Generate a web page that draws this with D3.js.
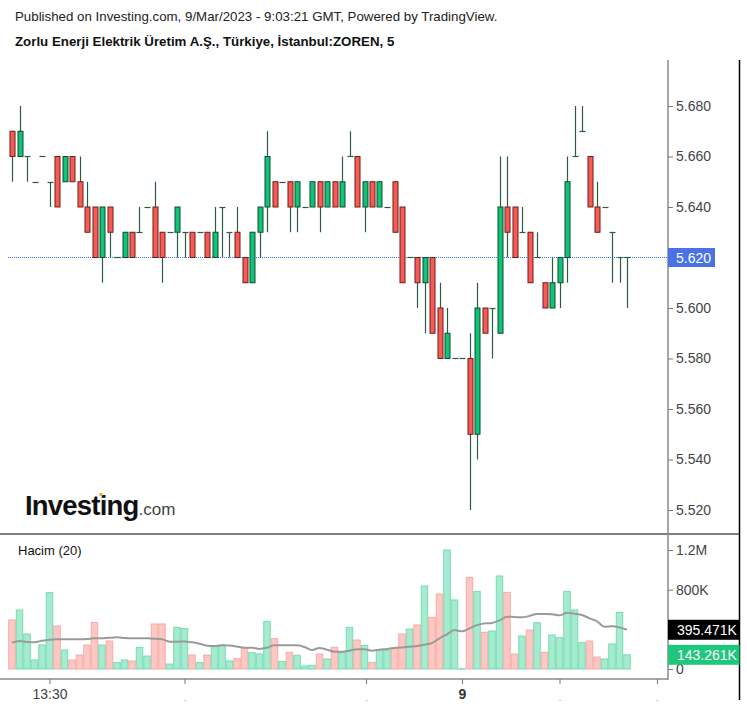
<!DOCTYPE html>
<html>
<head>
<meta charset="utf-8">
<script src="https://cdn.jsdelivr.net/npm/d3@7/dist/d3.min.js"></script>
<style>
html,body{margin:0;padding:0;background:#fff;}
svg{display:block;font-family:"Liberation Sans",Arial,sans-serif;}
</style>
</head>
<body>
<svg id="chart" width="747" height="707"></svg>
<script>
// ---------- DATA ----------
const opens  = [5.67,5.66,5.66,5.65,5.66,5.65,5.66,5.65,5.66,5.65,5.64,5.64,5.62,5.64,5.62,5.62,5.63,5.63,5.64,5.64,
                5.63,5.63,5.63,5.63,5.63,5.63,5.63,5.62,5.64,5.63,5.63,5.62,5.61,5.63,5.64,5.65,5.65,5.65,5.64,5.64,
                5.64,5.65,5.64,5.65,5.64,5.66,5.66,5.64,5.65,5.64,5.64,5.65,5.64,5.62,5.62,5.61,5.62,5.60,5.58,5.58,
                5.58,5.58,5.55,5.60,5.60,5.59,5.64,5.64,5.63,5.63,5.62,5.61,5.60,5.61,5.62,5.66,5.67,5.66,5.64,5.64,
                5.63,5.62,5.62];
const highs  = [5.67,5.68,5.66,5.65,5.66,5.65,5.66,5.66,5.66,5.66,5.65,5.64,5.64,5.64,5.62,5.63,5.63,5.64,5.64,5.65,
                5.63,5.63,5.64,5.63,5.63,5.63,5.63,5.64,5.64,5.63,5.64,5.62,5.63,5.64,5.67,5.65,5.65,5.65,5.65,5.64,
                5.65,5.65,5.65,5.65,5.66,5.67,5.66,5.65,5.65,5.65,5.64,5.65,5.64,5.62,5.62,5.62,5.62,5.61,5.60,5.58,
                5.58,5.59,5.61,5.60,5.60,5.66,5.66,5.64,5.64,5.63,5.63,5.61,5.62,5.62,5.66,5.68,5.68,5.66,5.65,5.64,
                5.63,5.62,5.62];
const lows   = [5.65,5.66,5.65,5.65,5.66,5.64,5.64,5.65,5.65,5.64,5.63,5.62,5.61,5.62,5.62,5.62,5.62,5.63,5.64,5.62,
                5.61,5.63,5.62,5.62,5.62,5.63,5.62,5.62,5.62,5.62,5.62,5.61,5.61,5.62,5.63,5.64,5.65,5.63,5.63,5.64,
                5.64,5.63,5.64,5.64,5.64,5.66,5.64,5.63,5.64,5.64,5.64,5.63,5.61,5.62,5.60,5.59,5.59,5.58,5.58,5.58,
                5.58,5.52,5.54,5.59,5.58,5.59,5.62,5.62,5.63,5.61,5.62,5.60,5.60,5.60,5.61,5.66,5.67,5.64,5.63,5.64,
                5.61,5.61,5.60];
const closes = [5.66,5.67,5.66,5.65,5.66,5.65,5.64,5.66,5.65,5.64,5.63,5.62,5.64,5.63,5.62,5.63,5.62,5.63,5.64,5.62,
                5.62,5.63,5.64,5.63,5.62,5.63,5.62,5.63,5.64,5.63,5.62,5.61,5.63,5.64,5.66,5.64,5.65,5.64,5.65,5.64,
                5.65,5.64,5.65,5.64,5.65,5.66,5.64,5.65,5.64,5.65,5.64,5.63,5.61,5.62,5.61,5.62,5.59,5.58,5.59,5.58,
                5.58,5.55,5.60,5.59,5.60,5.64,5.63,5.62,5.63,5.61,5.62,5.60,5.61,5.62,5.65,5.66,5.67,5.64,5.63,5.64,
                5.63,5.62,5.62];
// volume in thousands
const volumes = [494,595,353,91,242,770,434,192,91,141,242,470,242,282,64,91,81,218,131,454,
                 454,50,420,407,141,64,141,232,242,81,104,213,165,151,481,306,77,168,138,30,
                 37,151,101,218,165,420,292,239,67,192,192,218,353,403,444,837,521,756,1200,696,
                 3,924,783,370,383,938,773,151,333,393,467,168,343,316,783,595,266,282,121,101,
                 252,571,143.261];
// 20-period volume average (thousands)
const volumeMA = [266,282,272,270,285,295,299,299,299,299,302,309,309,315,319,312,309,309,309,306,
                  299,276,276,278,270,255,235,232,239,236,226,215,215,202,215,239,239,239,239,222,
                  192,212,195,175,175,185,198,198,185,195,202,212,218,225,232,245,262,309,350,393,
                  380,410,442,460,465,490,528,524,521,535,555,555,552,541,568,558,545,511,480,427,
                  432,420,395.471];
const priceTicks = [5.52,5.54,5.56,5.58,5.60,5.62,5.64,5.66,5.68];
const volumeTicks = [0,800,1200];
const volumeTickLabels = ["0","800K","1.2M"];
const timeTickIdx = [5,23,47.2,60,73,86];
const timeTickLabels = ["13:30","-","-","9","-","-"];
const lastPrice = 5.62;
const lastVolume = 143.261;
const lastMA = 395.471;

const titleLine1 = "Published on Investing.com, 9/Mar/2023 - 9:03:21 GMT, Powered by TradingView.";
const titleLine2 = "Zorlu Enerji Elektrik Üretim A.Ş., Türkiye, İstanbul:ZOREN, 5";

// ---------- LAYOUT ----------
const svg = d3.select("#chart");
svg.append("rect").attr("width",747).attr("height",707).attr("fill","#fff");

const axisX = 668;      // right edge of plot
const outerR = 739.5;
const paneTop = 60;
const sepY = 534;
const xAxisY = 679;

const x = d3.scaleLinear().domain([0, opens.length-1]).range([12, 627]);
const y = d3.scaleLinear().domain([5.52, 5.68]).range([510, 106]);
const yv = d3.scaleLinear().domain([0, 1200]).range([669, 550]);
const step = x(1) - x(0);

// titles
svg.append("text").attr("x",15).attr("y",21).attr("font-size",13.3).attr("fill","#222").text(titleLine1);
svg.append("text").attr("x",15).attr("y",46).attr("font-size",13.3).attr("font-weight","bold").attr("fill","#111").text(titleLine2);

// frame lines
svg.append("line").attr("x1",0).attr("x2",outerR).attr("y1",sepY).attr("y2",sepY).attr("stroke","#555").attr("stroke-width",1.5);
svg.append("line").attr("x1",0).attr("x2",axisX).attr("y1",xAxisY).attr("y2",xAxisY).attr("stroke","#8a8a8a").attr("stroke-width",1.5);
svg.append("line").attr("x1",axisX).attr("x2",axisX).attr("y1",paneTop).attr("y2",xAxisY+0.75).attr("stroke","#8a8a8a").attr("stroke-width",1.5);
svg.append("line").attr("x1",outerR).attr("x2",outerR).attr("y1",paneTop).attr("y2",700).attr("stroke","#000").attr("stroke-width",1.5);

// logo
const logo = svg.append("text").attr("x",25).attr("y",515);
logo.append("tspan").attr("font-size",27.5).attr("font-weight","bold").attr("letter-spacing",-0.8).attr("fill","#111").text("Investing");
logo.append("tspan").attr("font-size",17).attr("fill","#444").text(".com");
svg.append("rect").attr("x",99.5).attr("y",493).attr("width",3).attr("height",3).attr("fill","#f5a623");

// last price dotted line
svg.append("line").attr("x1",8).attr("x2",axisX).attr("y1",Math.round(y(lastPrice))+0.5).attr("y2",Math.round(y(lastPrice))+0.5)
  .attr("stroke","#3f6cf2").attr("stroke-width",1).attr("stroke-dasharray","1,1");

// candles
const idx = d3.range(opens.length);
const up = i => closes[i] >= opens[i];
const cg = svg.append("g");
const bw = 5;
idx.forEach(i => {
  const cx = Math.round(x(i)) + 0.5;
  if (highs[i] !== lows[i]) {
    cg.append("line").attr("x1",cx).attr("x2",cx).attr("y1",y(highs[i])).attr("y2",y(lows[i]))
      .attr("stroke","#2d5c45").attr("stroke-width",1.2);
  }
  if (opens[i] === closes[i]) {
    cg.append("line").attr("x1",cx-3).attr("x2",cx+3).attr("y1",Math.round(y(opens[i]))+0.5).attr("y2",Math.round(y(opens[i]))+0.5)
      .attr("stroke","#2d5c45").attr("stroke-width",1.2);
  } else {
    const top = y(Math.max(opens[i],closes[i])), bot = y(Math.min(opens[i],closes[i]));
    cg.append("rect").attr("x",cx-bw/2).attr("y",top).attr("width",bw).attr("height",bot-top)
      .attr("fill", up(i) ? "#10c477" : "#f65c55")
      .attr("stroke", up(i) ? "#0f4a30" : "#6e1d17").attr("stroke-width",1);
  }
});

// volume bars
const vg = svg.append("g");
idx.forEach(i => {
  const x0 = x(i) - step/2 + 0.5;
  const top = yv(volumes[i]);
  vg.append("rect").attr("x",x0).attr("y",top).attr("width",step-1).attr("height",Math.max(0.5,yv(0)-top))
    .attr("fill", up(i) ? "#a6ead0" : "#fdc8c4")
    .attr("stroke", up(i) ? "#74ddb2" : "#f8aaa4").attr("stroke-width",1);
});

// volume MA
const maLine = d3.line().x((d,i)=>x(i)).y(d=>yv(d)).curve(d3.curveMonotoneX);
svg.append("path").datum(volumeMA).attr("d",maLine).attr("fill","none").attr("stroke","#9a9a9a").attr("stroke-width",2);

// Hacim label
svg.append("text").attr("x",18).attr("y",555).attr("font-size",13).attr("fill","#111").text("Hacim (20)");

// price axis
const pAxis = d3.axisRight(y).tickValues(priceTicks).tickFormat(d3.format(".3f")).tickSize(5).tickPadding(3);
const pg = svg.append("g").attr("transform",`translate(${axisX},0)`).call(pAxis);
pg.select(".domain").remove();
pg.selectAll(".tick line").attr("stroke","#777");
pg.selectAll(".tick text").attr("font-size",14).attr("fill","#444").attr("font-family","Liberation Sans, Arial, sans-serif");

// last price label
const lp = svg.append("g");
lp.append("rect").attr("x",axisX).attr("y",y(lastPrice)-9.5).attr("width",47).attr("height",19).attr("fill","#4a72e6");
lp.append("text").attr("x",axisX+8).attr("y",y(lastPrice)+5).attr("font-size",14).attr("fill","#fff").text(d3.format(".3f")(lastPrice));

// volume axis
const vAxis = d3.axisRight(yv).tickValues(volumeTicks).tickFormat((d,i)=>volumeTickLabels[i]).tickSize(5).tickPadding(3);
const vga = svg.append("g").attr("transform",`translate(${axisX},0)`).call(vAxis);
vga.select(".domain").remove();
vga.selectAll(".tick line").attr("stroke","#777");
vga.selectAll(".tick text").attr("font-size",14).attr("fill","#444").attr("font-family","Liberation Sans, Arial, sans-serif");

// volume value labels
function valueBox(v, fill){
  const g = svg.append("g");
  g.append("rect").attr("x",axisX).attr("y",yv(v)-10).attr("width",outerR-axisX).attr("height",20).attr("fill",fill);
  g.append("text").attr("x",axisX+9).attr("y",yv(v)+5).attr("font-size",14).attr("fill","#fff").text(d3.format(".3f")(v)+"K");
}
valueBox(lastMA, "#000");
valueBox(lastVolume, "#1fc77c");

// time axis
const tAxis = d3.axisBottom(x).tickValues(timeTickIdx).tickFormat((d,i)=>timeTickLabels[i]).tickSize(5).tickPadding(5);
const tg = svg.append("g").attr("transform",`translate(0,${xAxisY})`).call(tAxis);
tg.select(".domain").remove();
tg.selectAll(".tick line").attr("stroke","#777");
tg.selectAll(".tick text").each(function(d,i){
  const s = d3.select(this).attr("font-family","Liberation Sans, Arial, sans-serif");
  if (timeTickLabels[i] === "-") s.attr("font-size",9).attr("fill","#bbb").attr("dy","1.5em");
  else if (timeTickLabels[i] === "9") s.attr("font-size",14).attr("font-weight","bold").attr("fill","#333");
  else s.attr("font-size",14).attr("fill","#444");
});
</script>
</body>
</html>
